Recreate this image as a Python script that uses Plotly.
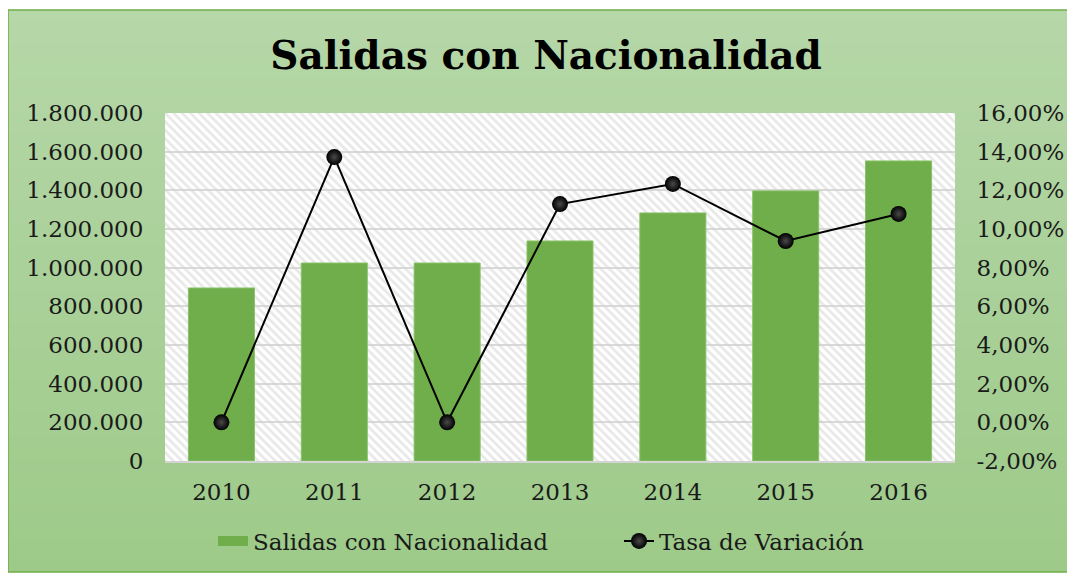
import plotly.graph_objects as go

years = ["2010", "2011", "2012", "2013", "2014", "2015", "2016"]
salidas = [895000, 1024000, 1024000, 1138000, 1283000, 1397000, 1552000]
tasa = [0.0, 0.1372, 0.0, 0.1129, 0.1233, 0.0938, 0.1078]

left_ticks = [0, 200000, 400000, 600000, 800000, 1000000, 1200000, 1400000, 1600000, 1800000]
right_ticks = [-0.02, 0.0, 0.02, 0.04, 0.06, 0.08, 0.10, 0.12, 0.14, 0.16]
right_labels = ["-2,00%", "0,00%", "2,00%", "4,00%", "6,00%", "8,00%",
                "10,00%", "12,00%", "14,00%", "16,00%"]

OFF = 8  # page body margin
W, H = 1075 - OFF, 575 - OFF
L = 165 - OFF
T = 113 - OFF
PR = 955 - OFF
PB = 461 - OFF
R, B = W - PR, H - PB
pw, ph = PR - L, PB - T

def px2paper_x(px):
    return (px - OFF - L) / pw

def px2paper_y(py):
    return (PB - (py - OFF)) / ph

FONT = "DejaVu Serif"
xs = list(range(len(years)))

fig = go.Figure()

# hatch background of plot area (main subplot, drawn below overlays)
fig.add_trace(go.Scatter(
    x=[-0.5, 6.5, 6.5, -0.5, -0.5], y=[0, 0, 1800000, 1800000, 0],
    mode="lines", fill="toself", line=dict(width=0),
    fillcolor="rgba(255,255,255,0)",
    fillpattern=dict(shape="\\", size=6, solidity=0.45, fgcolor="#d2d2d2",
                     bgcolor="rgba(255,255,255,0)"),
    hoverinfo="skip", showlegend=False, xaxis="x", yaxis="y"))

fig.add_trace(go.Bar(
    x=xs, y=salidas, name="Salidas con Nacionalidad", showlegend=False,
    marker=dict(color="#6fae4a", line=dict(color="#88c266", width=1)),
    width=0.585, xaxis="x", yaxis="y2"))

# legend swatch for the bars (wide rectangle like the original)
fig.add_trace(go.Scatter(
    x=[None], y=[None], name="Salidas con Nacionalidad", mode="lines",
    line=dict(color="#6fae4a", width=10), xaxis="x", yaxis="y2"))

fig.add_trace(go.Scatter(
    x=xs, y=tasa, name="Tasa de Variación", mode="lines+markers",
    line=dict(color="black", width=2),
    marker=dict(size=16, color="black", gradient=dict(type="radial", color="#4a4a4a")),
    xaxis="x", yaxis="y3"))

# gradient chart background
shapes = []
top, bot, left, right = 10, 572, 8, 1068
n = 50
c1 = (182, 215, 168)
c2 = (157, 202, 137)
for i in range(n):
    t = i / (n - 1)
    c = tuple(round(c1[k] + (c2[k] - c1[k]) * t) for k in range(3))
    y0 = top + (bot - top) * i / n
    y1 = top + (bot - top) * (i + 1) / n + 0.8
    shapes.append(dict(type="rect", xref="paper", yref="paper", layer="below",
                       x0=px2paper_x(left), x1=px2paper_x(right),
                       y0=px2paper_y(min(y1, bot)), y1=px2paper_y(y0),
                       line=dict(width=0), fillcolor="rgb(%d,%d,%d)" % c))
shapes.append(dict(type="rect", xref="paper", yref="paper", layer="below",
                   x0=px2paper_x(left), x1=px2paper_x(right),
                   y0=px2paper_y(bot), y1=px2paper_y(top),
                   line=dict(width=1.5, color="#70ad47"), fillcolor="rgba(0,0,0,0)"))
shapes.append(dict(type="rect", xref="paper", yref="paper", layer="below",
                   x0=0, x1=1, y0=0, y1=1, line=dict(width=0), fillcolor="white"))

tickfont = dict(family=FONT, size=23, color="#1a1a1a")

fig.update_layout(
    width=W, height=H,
    margin=dict(l=L, r=R, t=T, b=B),
    paper_bgcolor="white", plot_bgcolor="white",
    separators=",.",
    title=dict(text="<b>Salidas con Nacionalidad</b>", x=(546 - OFF) / W, xref="container",
               xanchor="center", y=1 - (55 - OFF) / H, yref="container", yanchor="middle",
               font=dict(family=FONT, size=39, color="black")),
    shapes=shapes,
    xaxis=dict(range=[-0.5, 6.5], tickvals=xs, ticktext=years, showgrid=False,
               zeroline=False, showline=True, linecolor="#d4d4d4", linewidth=1.5,
               ticks="outside", ticklen=10, tickcolor="rgba(0,0,0,0)",
               tickfont=tickfont, fixedrange=True),
    yaxis=dict(range=[0, 1800000], tickvals=left_ticks, tickformat=",d",
               showgrid=True, gridcolor="#d9d9d9", gridwidth=1.5, zeroline=False,
               ticks="outside", ticklen=16, tickcolor="rgba(0,0,0,0)",
               tickfont=tickfont, showline=False),
    yaxis2=dict(range=[0, 1800000], overlaying="y", visible=False, showgrid=False),
    yaxis3=dict(range=[-0.02, 0.16], overlaying="y", side="right", tickvals=right_ticks,
                ticktext=right_labels, showgrid=False, zeroline=False,
                ticks="outside", ticklen=16, tickcolor="rgba(0,0,0,0)",
                tickfont=tickfont, showline=False),
    legend=dict(orientation="h", x=px2paper_x(1025), xref="paper", xanchor="right",
                y=px2paper_y(541), yref="paper", yanchor="middle",
                font=dict(family=FONT, size=23, color="#1a1a1a"),
                entrywidth=361, entrywidthmode="pixels",
                bgcolor="rgba(0,0,0,0)", traceorder="normal"),
)

fig.write_html("out.html")
